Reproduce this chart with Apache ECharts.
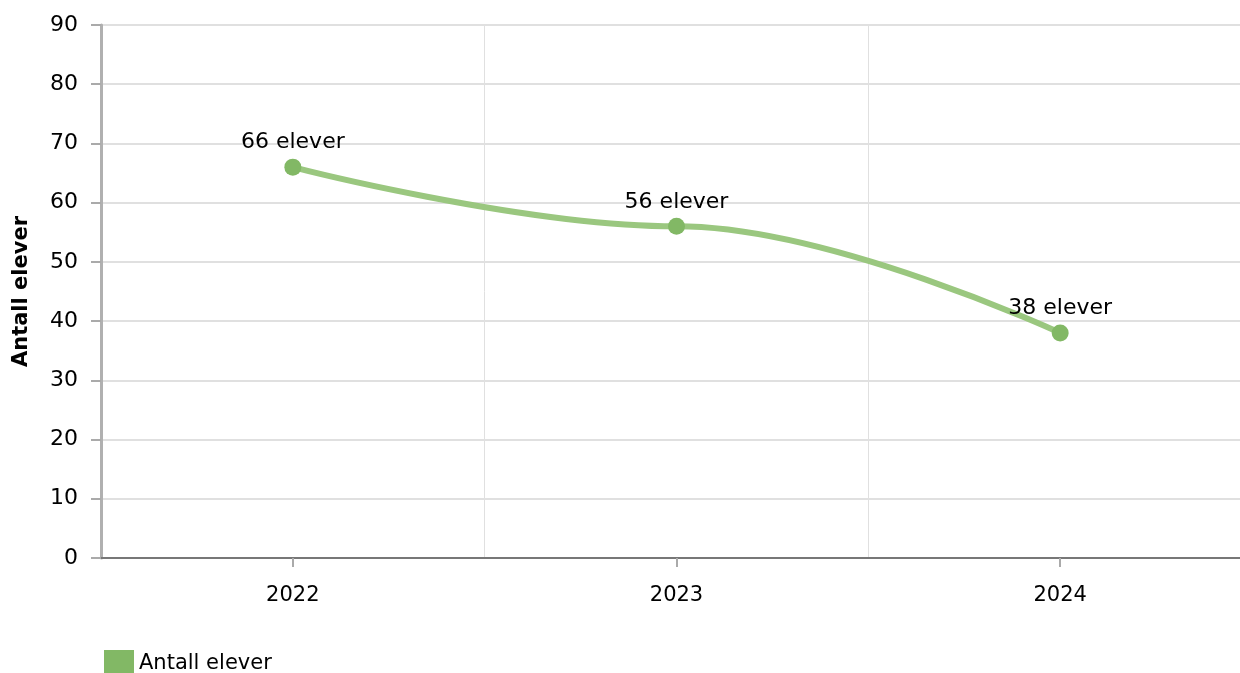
<!DOCTYPE html>
<html><head><meta charset="utf-8">
<script src="https://cdn.jsdelivr.net/npm/echarts@6/dist/echarts.min.js"></script>
<style>html,body{margin:0;padding:0;background:#fff}#c{width:1240px;height:673px}</style>
</head><body><div id="c"></div>
<script>
const categories = ['2022', '2023', '2024'];
const values = [66, 56, 38];
const yTicks = { min: 0, max: 90, interval: 10 };
const seriesName = 'Antall elever';
const axisName = 'Antall elever';

const font = 'DejaVu Sans, Verdana, sans-serif';
const chart = echarts.init(document.getElementById('c'));
chart.setOption({
  animation: false,
  textStyle: { fontFamily: font },
  grid: { left: 101, right: -12, top: 25, bottom: 115, containLabel: false, outerBoundsMode: 'none' },
  legend: {
    left: 99, top: 645, itemWidth: 30, itemHeight: 28, itemGap: 10,
    icon: 'rect',
    textStyle: { fontSize: 21, color: '#000', fontFamily: font },
    data: [{ name: seriesName, itemStyle: { color: '#82b865' } }]
  },
  xAxis: {
    type: 'category', data: categories, boundaryGap: true,
    axisLine: { lineStyle: { color: '#777', width: 2 } },
    axisTick: { show: true, alignWithLabel: true, length: 9, lineStyle: { color: '#aaa', width: 2 } },
    axisLabel: { fontSize: 21, color: '#000', margin: 27, fontFamily: font },
    splitLine: { show: true, lineStyle: { color: '#e0e0e0', width: 1 } }
  },
  yAxis: {
    type: 'value', min: yTicks.min, max: yTicks.max, interval: yTicks.interval,
    name: axisName, nameLocation: 'middle', nameGap: 69, nameRotate: 90,
    nameTextStyle: { fontSize: 21, fontWeight: 'bold', color: '#000', fontFamily: font },
    axisLine: { show: true, lineStyle: { color: '#b0b0b0', width: 3 } },
    axisTick: { show: true, length: 10, lineStyle: { color: '#aaa', width: 2 } },
    axisLabel: { fontSize: 22, color: '#000', margin: 23, fontFamily: font },
    splitLine: { show: true, lineStyle: { color: '#e0e0e0', width: 2 } }
  },
  series: [{
    name: seriesName, type: 'line', data: values, smooth: 0.4, smoothMonotone: 'x',
    symbol: 'circle', symbolSize: 17,
    lineStyle: { color: '#9ac77f', width: 6 },
    itemStyle: { color: '#82b865' },
    label: {
      show: true, position: 'top', distance: 5, fontSize: 22, color: '#000', fontFamily: font,
      formatter: p => p.value + ' elever'
    }
  }]
});
</script></body></html>
